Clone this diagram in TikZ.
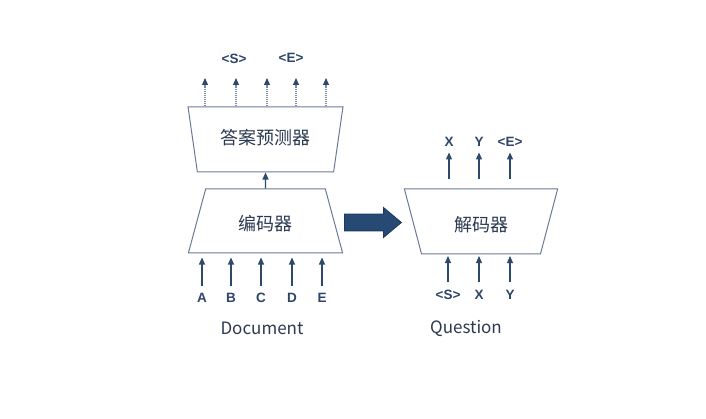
\documentclass[tikz,border=0pt]{standalone}
\usepackage{fontspec}
\setmainfont{Liberation Sans}
\newfontfamily\cjk{Noto Sans CJK SC}
\usetikzlibrary{shapes.geometric, shapes.arrows, arrows.meta}

\definecolor{edgecol}{HTML}{6A7B96}
\definecolor{arrcol}{HTML}{2E4A6B}
\definecolor{dotcol}{HTML}{7D8DA8}
\definecolor{txtcol}{HTML}{2B3A52}
\definecolor{labcol}{HTML}{2E4568}
\definecolor{bigfill}{HTML}{264A73}
\definecolor{bigedge}{HTML}{1D3A5C}

\begin{document}
\begin{tikzpicture}[x=1pt, y=-1pt,
	trap/.style = { trapezium, draw=edgecol, line width=1pt, fill=white,
	trapezium angle=72, trapezium stretches=true, inner sep=0pt,
	minimum width=155pt, minimum height=64pt,
	text height=22pt, text depth=2pt,
	font=\cjk\fontsize{18}{18}\selectfont, text=txtcol },
	lab/.style = { font=\bfseries\fontsize{13.5}{13.5}\selectfont, text=labcol,
	text height=9.5pt, text depth=0pt, inner sep=2pt },
	title/.style = { font=\cjk\fontsize{17}{17}\selectfont, text=txtcol },
	arr/.style = { draw=arrcol, line width=1.2pt,
	-{Triangle[length=7pt, width=6pt]} },
	dotarr/.style = { draw=dotcol, line width=1.1pt, densely dotted,
	-{Triangle[length=7pt, width=6pt, color=arrcol]} },
	bigarrow/.style = { single arrow, draw=bigedge, fill=bigfill,
	line width=0.8pt, inner xsep=0pt, inner ysep=8pt, minimum height=57pt,
	single arrow head extend=6.5pt, single arrow tip angle=80 } ]

  \useasboundingbox (0,0) rectangle (706,419);

  % left side: encoder and answer predictor
  \node [name=encoder, trap] at (265.5,221) {编码器};
  \node [name=predictor, trap, shape border rotate=180,
	minimum height=65pt, text height=15pt, text depth=4pt]
	at (265.5,139.5) {答案预测器};
  \draw [arr] (encoder.north) -- (predictor.south);

  \foreach \name/\x in {A/202, B/231, C/261, D/292, E/322}
  {
	\node [name=in\name, lab] at (\x,298) {\name};
	\draw [arr, shorten <=5pt, shorten >=4pt]
	  (in\name) -- (in\name |- encoder.south);
  }
  \node [name=doc, title] at (262,328) {Document};

  \foreach \i/\x in {1/205, 2/236, 3/267, 4/296, 5/326}
  {
	\coordinate (p\i) at (\x,78);
	\draw [dotarr] (p\i |- predictor.north) -- (p\i);
  }
  \node [name=outS, lab] at (234,59) {<S>};
  \node [name=outE, lab] at (291,58) {<E>};

  % middle arrow
  \node [name=flow, bigarrow, anchor=tail] at (344,222.5) {};

  % right side: decoder
  \node [name=decoder, trap, shape border rotate=180,
	minimum width=154pt, minimum height=65pt] at (481,221.5) {解码器};

  \node [name=decX, lab] at (449,142) {X};
  \node [name=decY, lab] at (479,142) {Y};
  \node [name=decE, lab] at (510,142) {<E>};
  \foreach \n in {decX, decY, decE}
	\draw [arr, shorten <=9pt, shorten >=3.5pt] (\n |- decoder.north) -- (\n);

  \node [name=qS, lab] at (448,295) {<S>};
  \node [name=qX, lab] at (479,295) {X};
  \node [name=qY, lab] at (510,295) {Y};
  \foreach \n in {qS, qX, qY}
	\draw [arr, shorten <=6pt, shorten >=1.5pt] (\n) -- (\n |- decoder.south);
  \node [name=question, title] at (466,328) {Question};
\end{tikzpicture}
\end{document}
